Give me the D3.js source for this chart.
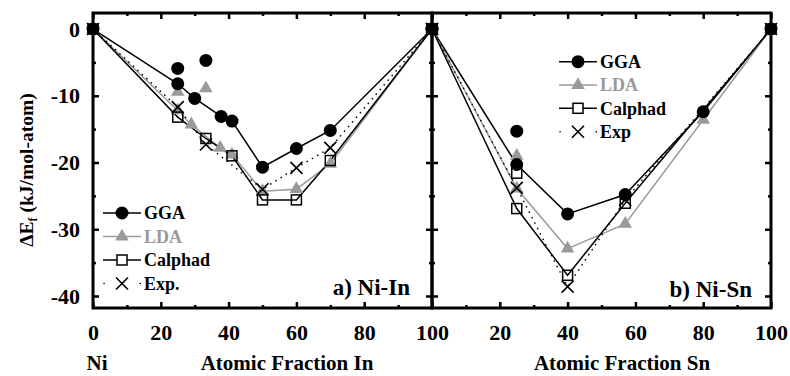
<!DOCTYPE html>
<html><head><meta charset="utf-8">
<script src="https://cdn.jsdelivr.net/npm/d3@7"></script>
<style>
body{margin:0;background:#fff;}
text{font-family:"Liberation Serif","Times New Roman",serif;font-weight:bold;}
</style></head>
<body><svg id="c" width="790" height="376"></svg>
<script>
// ---------- DATA ----------
// Panel a) Ni-In  (x = atomic fraction In, y = kJ/mol-atom)
const inGGA      = [[0,0],[25,-8.2],[30,-10.4],[37.8,-13.1],[41,-13.8],[50,-20.7],[60,-17.9],[70,-15.2],[100,0]];
const inGGAextra = [[25,-5.9],[33.3,-4.7]];
const inLDA      = [[0,0],[25,-12.2],[29,-14.3],[37.5,-17.8],[41,-18.8],[50,-24.3],[60,-24.0],[70,-20.2],[100,0]];
const inLDAextra = [[25,-9.4],[33.3,-8.9]];
const inCal      = [[0,0],[25,-13.2],[33.3,-16.4],[41,-19.0],[50,-25.6],[60,-25.6],[70,-19.7],[100,0]];
const inExp      = [[0,0],[25,-11.7],[33.3,-17.3],[50,-24.0],[60,-20.8],[70,-17.8],[100,0]];
// Panel b) Ni-Sn
const snGGA      = [[0,0],[25,-20.3],[40,-27.7],[57,-24.8],[80,-12.4],[100,0]];
const snGGAextra = [[25,-15.3]];
const snLDA      = [[0,0],[25,-23.9],[40,-32.9],[57,-29.2],[80,-13.6],[100,0]];
const snLDAextra = [[25,-19.0]];
const snCal      = [[0,0],[25,-26.9],[40,-36.9],[57,-26.1],[100,0]];
const snCalextra = [[25,-21.6]];
const snExp      = [[0,0],[25,-23.8],[40,-38.6],[57,-25.6],[100,0]];
// ticks / labels
const yMajor = [0,-10,-20,-30,-40];
const yMinor = [-5,-15,-25,-35];
const xMajorL = [0,20,40,60,80,100];
const xMajorR = [20,40,60,80,100];
const xMinor = [10,30,50,70,90];
const seriesNamesA = ["GGA","LDA","Calphad","Exp."];
const seriesNamesB = ["GGA","LDA","Calphad","Exp"];
const panelLabels = ["a) Ni-In","b) Ni-Sn"];
const xTitles = ["Atomic Fraction In","Atomic Fraction Sn"];
const yTitle = ["ΔE","f"," (kJ/mol-atom)"];

// ---------- SCALES ----------
const svg = d3.select("#c");
const yTop = 13, yBot = 308;
const y = d3.scaleLinear().domain([-41.8, 2.4]).range([yBot, yTop]);
const xL = d3.scaleLinear().domain([0,100]).range([93,432]);
const xR = d3.scaleLinear().domain([0,100]).range([432,771]);
const GRAY = "#9a9a9a";
const FONT = "Liberation Serif";

function axes(g, x, leftLabels, bottomVals){
  const x0 = x.range()[0], x1 = x.range()[1];
  const yl = d3.axisLeft(y).tickValues(yMajor).tickSize(-6).tickPadding(13)
      .tickFormat(d => leftLabels ? String(d) : "");
  const ylm = d3.axisLeft(y).tickValues(yMinor).tickSize(-3).tickFormat("");
  const yr = d3.axisRight(y).tickValues(yMajor).tickSize(-6).tickFormat("");
  const yrm = d3.axisRight(y).tickValues(yMinor).tickSize(-3).tickFormat("");
  const xbv = d3.axisBottom(x).tickValues(bottomVals).tickSize(-6).tickPadding(16).tickFormat(String);
  const xbm = d3.axisBottom(x).tickValues(xMinor).tickSize(-3).tickFormat("");
  const xt = d3.axisTop(x).tickValues(xMajorL).tickSize(-6).tickFormat("");
  const xtm = d3.axisTop(x).tickValues(xMinor).tickSize(-3).tickFormat("");
  const add = (ax, tr) => { const a = g.append("g").attr("transform", tr).call(ax)
       .attr("font-family", FONT).attr("font-size", 22).attr("font-weight","bold");
     a.select(".domain").remove();
     a.selectAll("line").attr("stroke","#000").attr("stroke-width",2.5);
     a.selectAll("text").attr("fill","#000");
     return a; };
  add(yl, `translate(${x0},0)`); add(ylm, `translate(${x0},0)`);
  add(yr, `translate(${x1},0)`); add(yrm, `translate(${x1},0)`);
  add(xbv, `translate(0,${yBot})`); add(xbm, `translate(0,${yBot})`);
  add(xt, `translate(0,${yTop})`); add(xtm, `translate(0,${yTop})`);
  g.append("rect").attr("x",x0).attr("y",yTop).attr("width",x1-x0).attr("height",yBot-yTop)
    .attr("fill","none").attr("stroke","#000").attr("stroke-width",3);
}

function drawPanel(g, x, S){
  const line = d3.line().x(d=>x(d[0])).y(d=>y(d[1]));
  g.append("path").datum(S.gga).attr("d",line).attr("fill","none").attr("stroke","#000").attr("stroke-width",1.5);
  g.append("path").datum(S.lda).attr("d",line).attr("fill","none").attr("stroke",GRAY).attr("stroke-width",1.5);
  g.append("path").datum(S.cal).attr("d",line).attr("fill","none").attr("stroke","#000").attr("stroke-width",1.5);
  g.append("path").datum(S.exp).attr("d",line).attr("fill","none").attr("stroke","#000").attr("stroke-width",1.6)
    .attr("stroke-dasharray","0.1,6").attr("stroke-linecap","round");
  const tri = d3.symbol().type(d3.symbolTriangle).size(80);
  g.selectAll(null).data(S.lda.concat(S.ldaX)).join("path").attr("d",tri)
    .attr("transform",d=>`translate(${x(d[0])},${y(d[1])})`).attr("fill",GRAY);
  g.selectAll(null).data(S.gga.concat(S.ggaX)).join("circle")
    .attr("cx",d=>x(d[0])).attr("cy",d=>y(d[1])).attr("r",6.5).attr("fill","#000");
  g.selectAll(null).data(S.cal.concat(S.calX)).join("rect")
    .attr("x",d=>x(d[0])-5).attr("y",d=>y(d[1])-5).attr("width",10).attr("height",10)
    .attr("fill","none").attr("stroke","#000").attr("stroke-width",1.5);
  const xs = g.selectAll(null).data(S.exp).join("g").attr("transform",d=>`translate(${x(d[0])},${y(d[1])})`);
  xs.append("path").attr("d","M-6,-6L6,6M-6,6L6,-6").attr("stroke","#000").attr("stroke-width",1.6);
}

function legend(g, mx, ys, names){
  const l0 = mx-19, l1 = mx+19, tx = mx+22;
  g.append("line").attr("x1",l0).attr("x2",l1).attr("y1",ys[0]).attr("y2",ys[0]).attr("stroke","#000").attr("stroke-width",1.5);
  g.append("circle").attr("cx",mx).attr("cy",ys[0]).attr("r",6.5).attr("fill","#000");
  g.append("line").attr("x1",l0).attr("x2",l1).attr("y1",ys[1]).attr("y2",ys[1]).attr("stroke",GRAY).attr("stroke-width",1.5);
  g.append("path").attr("d",d3.symbol().type(d3.symbolTriangle).size(80)).attr("transform",`translate(${mx},${ys[1]})`).attr("fill",GRAY);
  g.append("line").attr("x1",l0).attr("x2",l1).attr("y1",ys[2]).attr("y2",ys[2]).attr("stroke","#000").attr("stroke-width",1.5);
  g.append("rect").attr("x",mx-5).attr("y",ys[2]-5).attr("width",10).attr("height",10).attr("fill","#fff").attr("stroke","#000").attr("stroke-width",1.5);
  g.append("line").attr("x1",l0+1).attr("x2",l1).attr("y1",ys[3]).attr("y2",ys[3]).attr("stroke","#000").attr("stroke-width",1.6)
    .attr("stroke-dasharray","0.1,18").attr("stroke-linecap","round");
  g.append("path").attr("d","M-6,-6L6,6M-6,6L6,-6").attr("transform",`translate(${mx},${ys[3]})`).attr("stroke","#000").attr("stroke-width",1.6);
  names.forEach((n,i)=>{
    g.append("text").attr("x",tx).attr("y",ys[i]).attr("dy","0.35em").text(n)
     .style("font-size","18px").attr("fill", i===1?GRAY:"#000");
  });
}

const gA = svg.append("g"), gB = svg.append("g");
drawPanel(gA, xL, {gga:inGGA, ggaX:inGGAextra, lda:inLDA, ldaX:inLDAextra, cal:inCal, calX:[], exp:inExp});
drawPanel(gB, xR, {gga:snGGA, ggaX:snGGAextra, lda:snLDA, ldaX:snLDAextra, cal:snCal, calX:snCalextra, exp:snExp});
axes(gA, xL, true, xMajorL);
axes(gB, xR, false, xMajorR);
legend(gA, 122, [213,236.5,260,283.5], seriesNamesA);
legend(gB, 578, [61.7,85,108.3,131.7], seriesNamesB);

svg.append("text").attr("x",410).attr("y",295).attr("text-anchor","end").style("font-size","23px").text(panelLabels[0]);
svg.append("text").attr("x",752).attr("y",297).attr("text-anchor","end").style("font-size","23px").text(panelLabels[1]);
svg.append("text").attr("x",97).attr("y",370).attr("text-anchor","middle").style("font-size","21px").text("Ni");
svg.append("text").attr("x",287).attr("y",370).attr("text-anchor","middle").style("font-size","21px").text(xTitles[0]);
svg.append("text").attr("x",622).attr("y",370).attr("text-anchor","middle").style("font-size","21px").text(xTitles[1]);
const yt = svg.append("text").attr("transform","translate(33,170) rotate(-90)").attr("text-anchor","middle").style("font-size","19.5px");
yt.append("tspan").text(yTitle[0]);
yt.append("tspan").attr("dy",4).style("font-size","12px").text(yTitle[1]);
yt.append("tspan").attr("dy",-4).text(yTitle[2]);
</script></body></html>
